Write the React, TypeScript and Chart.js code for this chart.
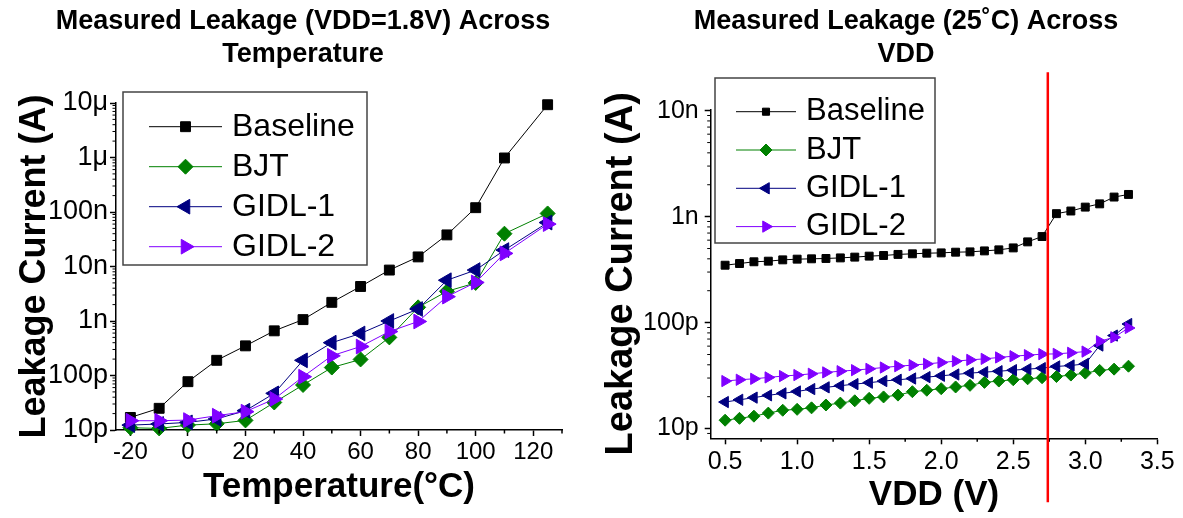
import React, { useEffect, useRef } from 'react';
import { Chart, registerables } from 'chart.js';
import { drawPoint } from 'chart.js/helpers';

Chart.register(...registerables);

// ---------- shared series definitions ----------
const seriesNames = ['Baseline', 'BJT', 'GIDL-1', 'GIDL-2'];
const seriesColors = ['#000000', '#008000', '#000080', '#8000FF'];
const seriesStyles = ['rect', 'rectRot', 'triangle', 'triangle'];
const seriesRotations = [0, 0, -90, 90];

// ---------- left chart: leakage vs temperature (VDD = 1.8 V) ----------
const tempC = [-20, -10, 0, 10, 20, 30, 40, 50, 60, 70, 80, 90, 100, 110, 125];
const tempBaseline = [1.7e-11, 2.5e-11, 7.7e-11, 1.9e-10, 3.5e-10, 6.6e-10, 1.06e-9, 2.2e-9, 4.3e-9, 8.6e-9, 1.5e-8, 3.8e-8, 1.2e-7, 9.8e-7, 9.3e-6];
const tempBJT = [1.1e-11, 1.07e-11, 1.23e-11, 1.3e-11, 1.5e-11, 3.2e-11, 6.7e-11, 1.4e-10, 1.97e-10, 5.0e-10, 1.78e-9, 3.5e-9, 5.0e-9, 4.0e-8, 9.4e-8];
const tempGIDL1 = [1.23e-11, 1.29e-11, 1.38e-11, 1.6e-11, 2.26e-11, 4.7e-11, 1.9e-10, 4.0e-10, 5.9e-10, 1.0e-9, 1.66e-9, 5.6e-9, 8.6e-9, 2.0e-8, 6.4e-8];
const tempGIDL2 = [1.48e-11, 1.48e-11, 1.52e-11, 1.83e-11, 2.17e-11, 3.7e-11, 9.5e-11, 2.3e-10, 3.4e-10, 6.4e-10, 9.8e-10, 2.8e-9, 5.1e-9, 1.74e-8, 6.0e-8];
const tempXTicks = [-20, 0, 20, 40, 60, 80, 100, 120];
const tempXMinorTicks = [-10, 10, 30, 50, 70, 90, 110, 130];
const tempYTickValues = [1e-11, 1e-10, 1e-9, 1e-8, 1e-7, 1e-6, 1e-5];
const tempYTickLabels = ['10p', '100p', '1n', '10n', '100n', '1μ', '10μ'];

// ---------- right chart: leakage vs VDD (25 °C) ----------
const vdd = [0.5, 0.6, 0.7, 0.8, 0.9, 1.0, 1.1, 1.2, 1.3, 1.4, 1.5, 1.6, 1.7, 1.8, 1.9, 2.0, 2.1, 2.2, 2.3, 2.4, 2.5, 2.6, 2.7, 2.8, 2.9, 3.0, 3.1, 3.2, 3.3];
const vddBaseline = [3.48e-10, 3.61e-10, 3.75e-10, 3.8e-10, 3.91e-10, 3.97e-10, 4.0e-10, 4.03e-10, 4.08e-10, 4.15e-10, 4.24e-10, 4.3e-10, 4.4e-10, 4.46e-10, 4.52e-10, 4.55e-10, 4.62e-10, 4.65e-10, 4.75e-10, 4.86e-10, 5.07e-10, 5.78e-10, 6.49e-10, 1.067e-9, 1.13e-9, 1.23e-9, 1.32e-9, 1.53e-9, 1.62e-9];
const vddBJT = [1.2e-11, 1.25e-11, 1.31e-11, 1.4e-11, 1.49e-11, 1.52e-11, 1.57e-11, 1.67e-11, 1.74e-11, 1.83e-11, 1.93e-11, 1.99e-11, 2.07e-11, 2.23e-11, 2.3e-11, 2.38e-11, 2.47e-11, 2.56e-11, 2.73e-11, 2.81e-11, 2.89e-11, 2.95e-11, 3.02e-11, 3.1e-11, 3.2e-11, 3.34e-11, 3.54e-11, 3.64e-11, 3.88e-11];
const vddGIDL1 = [1.78e-11, 1.87e-11, 1.96e-11, 2.06e-11, 2.15e-11, 2.24e-11, 2.36e-11, 2.45e-11, 2.54e-11, 2.63e-11, 2.71e-11, 2.81e-11, 2.89e-11, 2.97e-11, 3.06e-11, 3.15e-11, 3.24e-11, 3.34e-11, 3.41e-11, 3.48e-11, 3.56e-11, 3.64e-11, 3.72e-11, 3.86e-11, 3.94e-11, 4.08e-11, 6.08e-11, 7.55e-11, 9.7e-11];
const vddGIDL2 = [2.81e-11, 2.89e-11, 2.95e-11, 3.04e-11, 3.13e-11, 3.2e-11, 3.29e-11, 3.39e-11, 3.48e-11, 3.56e-11, 3.66e-11, 3.77e-11, 3.88e-11, 3.97e-11, 4.08e-11, 4.2e-11, 4.33e-11, 4.45e-11, 4.55e-11, 4.69e-11, 4.82e-11, 4.93e-11, 5.04e-11, 5.07e-11, 5.19e-11, 5.33e-11, 6.67e-11, 7.27e-11, 8.9e-11];
const vddXTicks = [0.5, 1.0, 1.5, 2.0, 2.5, 3.0, 3.5];
const vddXMinorTicks = [0.75, 1.25, 1.75, 2.25, 2.75, 3.25];
const vddYTickValues = [1e-11, 1e-10, 1e-9, 1e-8];
const vddYTickLabels = ['10p', '100p', '1n', '10n'];
const vddMarkerLine = 2.74;

// ---------- fonts ----------
const SANS = "'Liberation Sans', Arial, Helvetica, sans-serif";

function logMinors(min: number, max: number) {
  const out: number[] = [];
  for (let e = Math.floor(Math.log10(min)); e <= Math.ceil(Math.log10(max)); e++) {
    for (let m = 2; m <= 9; m++) {
      const v = m * Math.pow(10, e);
      if (v >= min && v <= max) out.push(v);
    }
  }
  return out;
}

const decorPlugin = {
  id: 'decor',
  afterDatasetsDraw(chart: any, _args: any, opts: any) {
    const { ctx, chartArea } = chart;
    const xs = chart.scales.x;
    const ys = chart.scales.y;
    ctx.save();
    // minor ticks
    ctx.strokeStyle = '#000';
    ctx.lineWidth = 1.5;
    for (const v of opts.xMinor || []) {
      const px = xs.getPixelForValue(v);
      ctx.beginPath();
      ctx.moveTo(px, chartArea.bottom);
      ctx.lineTo(px, chartArea.bottom + 3.5);
      ctx.stroke();
    }
    ctx.lineWidth = 1;
    for (const v of logMinors(ys.min, ys.max)) {
      const py = ys.getPixelForValue(v);
      ctx.beginPath();
      ctx.moveTo(chartArea.left, py);
      ctx.lineTo(chartArea.left - 3.5, py);
      ctx.stroke();
    }
    // vertical marker line
    if (opts.redLine !== undefined) {
      const px = xs.getPixelForValue(opts.redLine);
      ctx.strokeStyle = '#FF0000';
      ctx.lineWidth = 2.5;
      ctx.beginPath();
      ctx.moveTo(px, chartArea.top - 37);
      ctx.lineTo(px, chartArea.bottom + 64);
      ctx.stroke();
    }
    // legend
    const lg = opts.legend;
    if (lg) {
      const bx = chartArea.left + lg.dx;
      const by = chartArea.top + lg.dy;
      ctx.fillStyle = '#fff';
      ctx.fillRect(bx, by, lg.w, lg.h);
      ctx.strokeStyle = '#444';
      ctx.lineWidth = 1.5;
      ctx.strokeRect(bx, by, lg.w, lg.h);
      chart.data.datasets.forEach((ds: any, i: number) => {
        const ry = by + lg.row0 + i * lg.rowGap;
        ctx.strokeStyle = ds.borderColor;
        ctx.lineWidth = 1;
        ctx.beginPath();
        ctx.moveTo(bx + lg.line0, ry);
        ctx.lineTo(bx + lg.line1, ry);
        ctx.stroke();
        ctx.fillStyle = ds.backgroundColor;
        drawPoint(ctx, { pointStyle: ds.pointStyle, rotation: ds.pointRotation, radius: lg.radii[i], borderWidth: 1 } as any, bx + (lg.line0 + lg.line1) / 2, ry);
        ctx.fillStyle = '#000';
        ctx.font = `${lg.fontSize}px ${SANS}`;
        ctx.textAlign = 'left';
        ctx.textBaseline = 'middle';
        ctx.fillText(ds.label, bx + lg.text, ry);
      });
    }
    ctx.restore();
  },
};

function makeDatasets(xs: number[], ys: number[][], radii: number[]) {
  return ys.map((vals, i) => ({
    label: seriesNames[i],
    data: xs.map((x, j) => ({ x, y: vals[j] })),
    borderColor: seriesColors[i],
    backgroundColor: seriesColors[i],
    borderWidth: 1,
    pointStyle: seriesStyles[i],
    pointRotation: seriesRotations[i],
    pointRadius: radii[i],
    pointBorderWidth: 1,
    pointBorderColor: seriesColors[i],
    pointBackgroundColor: seriesColors[i],
    order: 3 - i,
    clip: false as any,
    tension: 0,
  }));
}

function tickLabel(values: number[], labels: string[]) {
  return (v: any) => {
    const i = values.findIndex((t) => Math.abs(t - v) / t < 1e-6);
    return i >= 0 ? labels[i] : '';
  };
}

const axisGrid = { display: true, drawOnChartArea: false, drawTicks: true, tickLength: 6, tickWidth: 1.5, tickColor: '#000' };
const axisBorder = { display: true, color: '#000', width: 1.5 };
const chartTitleFont = { family: SANS, size: 27, weight: 'bold', lineHeight: 33 / 27 };

function leftConfig(): any {
  return {
    type: 'line',
    data: { datasets: makeDatasets(tempC, [tempBaseline, tempBJT, tempGIDL1, tempGIDL2], [7, 7.5, 8.5, 8.5]) },
    options: {
      animation: false,
      responsive: false,
      events: [],
      layout: { padding: 0 },
      plugins: {
        legend: { display: false },
        tooltip: { enabled: false },
        title: {
          display: true,
          text: ['Measured Leakage (VDD=1.8V) Across', 'Temperature'],
          color: '#000',
          font: chartTitleFont,
          padding: { top: 5.5, bottom: 31.5 },
        },
        decor: {
          xMinor: tempXMinorTicks,
          legend: { dx: 7, dy: -11, w: 244, h: 173, row0: 34.7, rowGap: 40, line0: 26, line1: 99, text: 109, fontSize: 32, radii: [7, 7.5, 8.5, 8.5] },
        },
      },
      scales: {
        x: {
          type: 'linear',
          min: -25,
          max: 130,
          afterBuildTicks: (s: any) => { s.ticks = tempXTicks.map((v) => ({ value: v })); },
          afterFit: (s: any) => { s.height = 88; },
          ticks: { autoSkip: false, maxRotation: 0, color: '#000', padding: 2, font: { family: SANS, size: 24 }, callback: (v: any) => String(v) },
          grid: axisGrid,
          border: axisBorder,
          title: { display: true, text: 'Temperature(°C)', color: '#000', font: { family: SANS, size: 35, weight: 'bold', lineHeight: 1 }, padding: { top: 0, bottom: 13 } },
        },
        y: {
          type: 'logarithmic',
          min: 1e-11,
          max: 1e-5,
          afterBuildTicks: (s: any) => { s.ticks = tempYTickValues.map((v) => ({ value: v })); },
          afterFit: (s: any) => { s.width = 116; },
          ticks: { autoSkip: false, color: '#000', padding: 2, font: { family: SANS, size: 27 }, callback: tickLabel(tempYTickValues, tempYTickLabels) },
          grid: axisGrid,
          border: axisBorder,
          title: { display: true, text: 'Leakage Current (A)', color: '#000', font: { family: SANS, size: 36, weight: 'bold', lineHeight: 1 }, padding: { top: 17, bottom: 0 } },
        },
        yRightSpace: {
          type: 'linear',
          position: 'right',
          display: true,
          afterFit: (s: any) => { s.width = 44; },
          ticks: { display: false },
          grid: { display: false, drawTicks: false },
          border: { display: false },
        },
      },
    },
    plugins: [decorPlugin],
  };
}

function rightConfig(): any {
  return {
    type: 'line',
    data: { datasets: makeDatasets(vdd, [vddBaseline, vddBJT, vddGIDL1, vddGIDL2], [5.6, 6, 6.5, 6.5]) },
    options: {
      animation: false,
      responsive: false,
      events: [],
      layout: { padding: 0 },
      plugins: {
        legend: { display: false },
        tooltip: { enabled: false },
        title: {
          display: true,
          text: ['Measured Leakage (25˚C) Across', 'VDD'],
          color: '#000',
          font: chartTitleFont,
          padding: { top: 5.5, bottom: 37.8 },
        },
        decor: {
          xMinor: vddXMinorTicks,
          redLine: vddMarkerLine,
          legend: { dx: 4.3, dy: -31.3, w: 220, h: 165, row0: 33.7, rowGap: 38.3, line0: 21, line1: 81, text: 91, fontSize: 31, radii: [5, 6, 6.5, 6.5] },
        },
      },
      scales: {
        x: {
          type: 'linear',
          min: 0.4,
          max: 3.5,
          afterBuildTicks: (s: any) => { s.ticks = vddXTicks.map((v) => ({ value: v })); },
          afterFit: (s: any) => { s.height = 79.7; },
          ticks: { autoSkip: false, maxRotation: 0, color: '#000', padding: 2.4, font: { family: SANS, size: 25 }, callback: (v: any) => Number(v).toFixed(1) },
          grid: axisGrid,
          border: axisBorder,
          title: { display: true, text: 'VDD (V)', color: '#000', font: { family: SANS, size: 35, weight: 'bold', lineHeight: 1 }, padding: { top: 0, bottom: 5 } },
        },
        y: {
          type: 'logarithmic',
          min: 8.1e-12,
          max: 1.03e-8,
          afterBuildTicks: (s: any) => { s.ticks = vddYTickValues.map((v) => ({ value: v })); },
          afterFit: (s: any) => { s.width = 116.7; },
          ticks: { autoSkip: false, color: '#000', padding: 6, font: { family: SANS, size: 25 }, callback: tickLabel(vddYTickValues, vddYTickLabels) },
          grid: axisGrid,
          border: axisBorder,
          title: { display: true, text: 'Leakage Current (A)', color: '#000', font: { family: SANS, size: 38, weight: 'bold', lineHeight: 1 }, padding: { top: 9, bottom: 0 } },
        },
        yRightSpace: {
          type: 'linear',
          position: 'right',
          display: true,
          afterFit: (s: any) => { s.width = 60.7; },
          ticks: { display: false },
          grid: { display: false, drawTicks: false },
          border: { display: false },
        },
      },
    },
    plugins: [decorPlugin],
  };
}

function ChartCanvas({ left, width, height, make }: { left: number; width: number; height: number; make: () => any }) {
  const ref = useRef<HTMLCanvasElement | null>(null);
  useEffect(() => {
    if (!ref.current) return;
    const chart = new Chart(ref.current, make());
    return () => chart.destroy();
  }, [make]);
  return (
    <canvas
      ref={ref}
      width={width}
      height={height}
      style={{ position: 'absolute', left, top: 0, width, height, display: 'block' }}
    />
  );
}

export default function App() {
  return (
    <div style={{ position: 'absolute', left: 0, top: 0, width: 1183, height: 518, overflow: 'hidden', background: '#fff' }}>
      <ChartCanvas left={0} width={606} height={518} make={leftConfig} />
      <ChartCanvas left={594} width={624} height={518} make={rightConfig} />
    </div>
  );
}
